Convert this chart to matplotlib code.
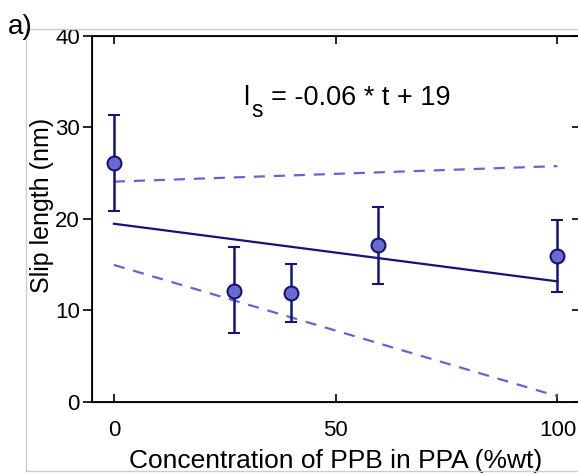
import numpy as np
import matplotlib.pyplot as plt
from matplotlib.patches import Rectangle

plt.rcParams['font.family'] = ['Liberation Sans', 'DejaVu Sans']

# measured slip lengths
conc = [0, 27, 40, 59.5, 100]
slip = [26.1, 12.15, 11.9, 17.1, 15.9]
err_hi = [31.3, 16.9, 15.1, 21.3, 19.9]
err_lo = [20.8, 7.5, 8.7, 12.85, 12.0]

# linear fit and confidence bounds (end points)
fit_x = [0, 100]
fit_y = [19.45, 13.15]
upper_y = [24.05, 25.75]
lower_y = [14.95, 0.6]

navy = '#14147a'
fill = '#6a6ad0'
dash = '#6464d8'

fig = plt.figure(figsize=(5.78, 4.74), dpi=100)
fig.patches.append(Rectangle((0.045, 0.0063), 1.0, 0.932, transform=fig.transFigure,
                             fill=False, edgecolor='#cccccc', linewidth=1))
ax = fig.add_axes([0.1587, 0.1525, 0.844, 0.7722])

slip = np.array(slip)
yerr = [slip - np.array(err_lo), np.array(err_hi) - slip]

ax.plot(fit_x, upper_y, '--', color=dash, lw=1.6, dashes=(5, 4))
ax.plot(fit_x, lower_y, '--', color=dash, lw=1.6, dashes=(5, 4))
ax.plot(fit_x, fit_y, '-', color=navy, lw=1.6)
ax.errorbar(conc, slip, yerr=yerr, fmt='o', color=navy, ecolor=navy,
            elinewidth=1.8, capsize=4.5, capthick=1.8,
            markersize=10, markerfacecolor=fill, markeredgecolor=navy,
            markeredgewidth=1.5, zorder=5)

ax.set_xlim(-5, 105)
ax.set_ylim(0, 40)
ax.set_xticks([0, 50, 100])
ax.set_yticks([0, 10, 20, 30, 40])
ax.tick_params(axis='x', direction='in', top=True, length=6, width=1.2,
               labelsize=16, pad=13)
ax.tick_params(axis='y', direction='out', length=6.5, width=1.2, labelsize=16, pad=2)
for s in ax.spines.values():
    s.set_linewidth(1.3)

ax2 = ax.twinx()
ax2.set_ylim(0, 40)
ax2.set_yticks([0, 10, 20, 30, 40])
ax2.tick_params(axis='y', direction='in', length=6, width=1.2, labelright=False)

ax.set_xlabel('Concentration of PPB in PPA (%wt)', fontsize=19)
ax.xaxis.set_label_coords(0.5, -0.129)
ax.set_ylabel('Slip length (nm)', fontsize=18)
ax.yaxis.set_label_coords(-0.078, 0.535)

# fit equation, l with subscript s
ax.text(0.310, 0.811, 'l', transform=ax.transAxes, fontsize=19.5, ha='left', va='baseline')
ax.text(0.328, 0.779, 's', transform=ax.transAxes, fontsize=16.5, ha='left', va='baseline')
ax.text(0.367, 0.811, '= -0.06 * t + 19', transform=ax.transAxes, fontsize=19.5,
        ha='left', va='baseline')

fig.text(0.014, 0.928, 'a)', fontsize=20, ha='left', va='baseline')

fig.savefig('out.png', dpi=100)
